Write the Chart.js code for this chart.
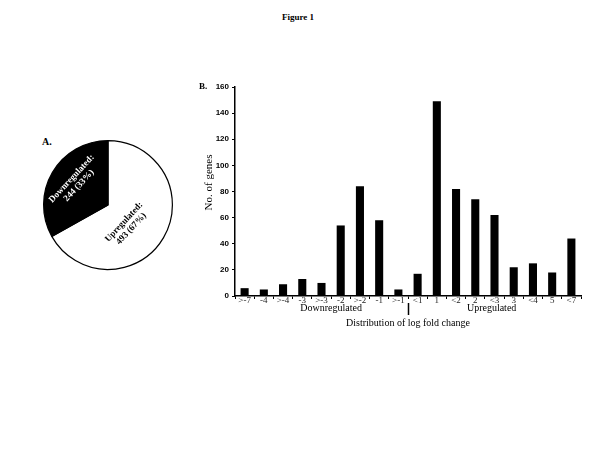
<!DOCTYPE html>
<html>
<head>
<meta charset="utf-8">
<script src="https://cdn.jsdelivr.net/npm/chart.js@4/dist/chart.umd.min.js"></script>
<style>
  body { margin: 0; background: #fff; width: 600px; height: 450px; position: relative; overflow: hidden; }
  .txt { position: absolute; font-family: "Liberation Serif", "Times New Roman", serif; color: #000; white-space: nowrap; }
  canvas { position: absolute; }
</style>
</head>
<body>
<div class="txt" style="left:282px; top:12px; font-size:9px; font-weight:bold;">Figure 1</div>
<div class="txt" style="left:42px; top:136px; font-size:10px; font-weight:bold;">A.</div>
<canvas id="pie" width="132" height="132" style="left:42px; top:139px;"></canvas>
<canvas id="bars" width="410" height="270" style="left:180px; top:70px;"></canvas>

<script>
// Camembert : régulation des gènes
const pieLabels = ['Upregulated', 'Downregulated'];
const pieValues = [493, 244];
const piePct = ['67%', '33%'];

// Diagramme : distribution du log fold change
const categories = ['>-7', '-4', '>-4', '-3', '>-3', '-2', '>-2', '-1', '>-1',
                    '<1', '1', '<2', '2', '<3', '3', '<4', '5', '<7'];
const geneCounts = [6, 5, 9, 13, 10, 54, 84, 58, 5, 17, 149, 82, 74, 62, 22, 25, 18, 44];
const yTicks = [0, 20, 40, 60, 80, 100, 120, 140, 160];

const serif = '"Liberation Serif", "Times New Roman", serif';
const sans = '"Liberation Sans", Arial, sans-serif';

// étiquettes tournées dans les parts
const pieText = {
    id: 'pieText',
    afterDraw(chart) {
        const ctx = chart.ctx;
        const meta = chart.getDatasetMeta(0);
        // position polaire (fraction du rayon, angle en degrés) et rotation du texte
        const pos = [
            { r: 0.44, a: 46, rot: -47 },
            { r: 0.62, a: -145, rot: -47 }
        ];
        meta.data.forEach((arc, i) => {
            const a = pos[i].a * Math.PI / 180;
            const x = arc.x + Math.cos(a) * arc.outerRadius * pos[i].r;
            const y = arc.y + Math.sin(a) * arc.outerRadius * pos[i].r;
            ctx.save();
            ctx.translate(x, y);
            ctx.rotate(pos[i].rot * Math.PI / 180);
            ctx.fillStyle = i === 0 ? '#000' : '#fff';
            ctx.font = 'bold 9px ' + serif;
            ctx.textAlign = 'center';
            ctx.textBaseline = 'middle';
            ctx.fillText(pieLabels[i] + ':', 0, -5);
            ctx.fillText(pieValues[i] + ' (' + piePct[i] + ')', 0, 5);
            ctx.restore();
        });
    }
};

new Chart(document.getElementById('pie').getContext('2d'), {
    type: 'pie',
    data: {
        labels: pieLabels,
        datasets: [{
            data: pieValues,
            backgroundColor: ['#ffffff', '#000000'],
            borderColor: '#000',
            borderWidth: 1.2
        }]
    },
    options: {
        responsive: false,
        animation: false,
        layout: { padding: 1 },
        plugins: { legend: { display: false }, tooltip: { enabled: false } }
    },
    plugins: [pieText]
});

// textes autour du diagramme
const barText = {
    id: 'barText',
    afterDraw(chart) {
        const ctx = chart.ctx;
        const xs = chart.scales.x;
        const area = chart.chartArea;
        ctx.save();
        ctx.fillStyle = '#000';
        ctx.font = 'bold 9px ' + serif;
        ctx.textAlign = 'left';
        ctx.textBaseline = 'middle';
        ctx.fillText('B.', 19, area.top);

        ctx.font = '11px ' + serif;
        ctx.save();
        ctx.translate(29, (area.top + area.bottom) / 2 - 9);
        ctx.rotate(-Math.PI / 2);
        ctx.textAlign = 'center';
        ctx.fillText('No. of genes', 0, 0);
        ctx.restore();

        ctx.textAlign = 'center';
        ctx.font = '10px ' + serif;
        ctx.fillText('Downregulated', xs.getPixelForValue(4.5), area.bottom + 12);
        ctx.fillText('Upregulated', xs.getPixelForValue(12.85), area.bottom + 12);
        ctx.fillText('Distribution of log fold change', xs.getPixelForValue(8.5), area.bottom + 27);

        const dx = Math.round(xs.getPixelForValue(8.5)) + 0.5;
        ctx.strokeStyle = '#000';
        ctx.lineWidth = 1.5;
        ctx.beginPath();
        ctx.moveTo(dx, area.bottom + 7);
        ctx.lineTo(dx, area.bottom + 19);
        ctx.stroke();
        ctx.restore();
    }
};

new Chart(document.getElementById('bars').getContext('2d'), {
    type: 'bar',
    data: {
        labels: categories,
        datasets: [{
            data: geneCounts,
            backgroundColor: '#000',
            borderWidth: 0,
            barPercentage: 0.84,
            categoryPercentage: 0.5
        }]
    },
    options: {
        responsive: false,
        animation: false,
        layout: { padding: { top: 17, right: 9, left: 0, bottom: 0 } },
        plugins: { legend: { display: false }, tooltip: { enabled: false } },
        scales: {
            x: {
                grid: { display: true, offset: true, drawOnChartArea: false, tickLength: 3, color: '#000' },
                border: { color: '#000', width: 1.5 },
                ticks: { color: '#222', padding: -4, maxRotation: 0, autoSkip: false, font: { family: serif, size: 9 } },
                afterFit(scale) { scale.height = 44; }
            },
            y: {
                min: 0,
                max: 160,
                afterBuildTicks(scale) { scale.ticks = yTicks.map(v => ({ value: v })); },
                grid: { display: true, drawOnChartArea: false, tickLength: 3, color: '#000' },
                border: { color: '#000', width: 1.5 },
                ticks: { color: '#000', padding: 3, font: { family: sans, size: 8, weight: 'bold' } },
                afterFit(scale) { scale.width = 55; }
            }
        }
    },
    plugins: [barText]
});
</script>
</body>
</html>
